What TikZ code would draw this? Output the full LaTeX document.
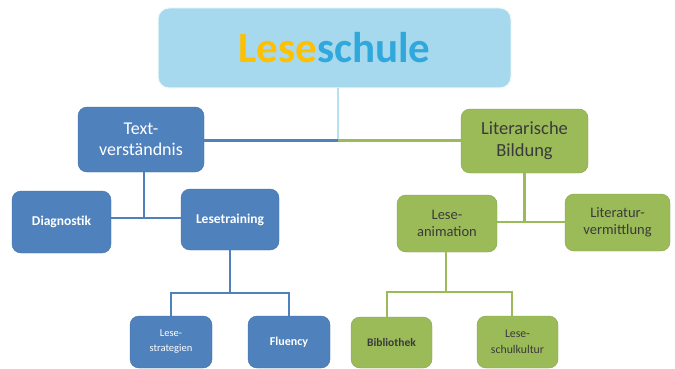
\documentclass[tikz,border=0pt]{standalone}
\usepackage{fontspec}
\setmainfont{Carlito}
\definecolor{obl}{HTML}{4F81BD}
\definecolor{ogr}{HTML}{9BBB59}
\definecolor{topfill}{HTML}{A6D9ED}
\definecolor{lyel}{HTML}{FFC000}
\definecolor{lblu}{HTML}{31A8DC}
\definecolor{dtxt}{HTML}{3A3A3A}
\definecolor{vline}{HTML}{B7E1F1}
\tikzset{
  bluebox/.style={rounded corners=9pt, fill=obl, draw=obl!85!black, line width=0.4pt, text=white, align=center, inner sep=0pt},
  greenbox/.style={rounded corners=9pt, fill=ogr, draw=ogr!85!black, line width=0.4pt, text=dtxt, align=center, inner sep=0pt},
  blueline/.style={draw=obl, line width=2.6pt},
  greenline/.style={draw=ogr, line width=2.6pt},
}
\begin{document}
\begin{tikzpicture}[x=1pt,y=-1pt]
\useasboundingbox (0,0) rectangle (675,369);
% nodes
\node[rounded corners=11pt, fill=topfill, draw=white!85!topfill, line width=1pt, minimum width=353pt, minimum height=80pt, inner sep=0pt]
  (top) at (334.5,48) {\fontsize{43}{47}\selectfont\bfseries\textcolor{lyel}{Lese}\textcolor{lblu}{schule}};
\node[bluebox, minimum width=126pt, minimum height=65pt, font=\fontsize{18}{21}\selectfont] (tv) at (141,139.5) {Text-\\verständnis};
\node[bluebox, minimum width=99pt, minimum height=62pt, font=\fontsize{13.5}{16}\selectfont\bfseries] (diag) at (61.5,222) {Diagnostik};
\node[bluebox, minimum width=98pt, minimum height=61pt, font=\fontsize{13.5}{16}\selectfont\bfseries] (lt) at (230,219.5) {Lesetraining};
\node[bluebox, minimum width=82pt, minimum height=52pt, font=\fontsize{10.5}{15}\selectfont] (ls) at (171,342) {Lese-\\strategien};
\node[bluebox, minimum width=82pt, minimum height=52pt, font=\fontsize{12}{14}\selectfont\bfseries] (fl) at (289,342) {Fluency};
\node[greenbox, minimum width=127pt, minimum height=64pt, font=\fontsize{18.5}{22}\selectfont] (lb) at (524.5,141) {Literarische\\Bildung};
\node[greenbox, minimum width=100pt, minimum height=57pt, font=\fontsize{14.5}{17}\selectfont] (la) at (447,223.5) {Lese-\\animation};
\node[greenbox, minimum width=105pt, minimum height=57pt, font=\fontsize{14.5}{17}\selectfont] (lv) at (617.5,222.5) {Literatur-\\vermittlung};
\node[greenbox, minimum width=81pt, minimum height=51pt, font=\fontsize{11.5}{14}\selectfont\bfseries] (bi) at (391.5,342.5) {Bibliothek};
\node[greenbox, minimum width=81pt, minimum height=52pt, font=\fontsize{11.8}{16}\selectfont] (sk) at (517.5,342) {Lese-\\schulkultur};
% junctions
\coordinate (j0) at (338,140.5);
\coordinate (j1) at (144,218);
\coordinate (j2) at (230,293);
\coordinate (j3) at (524.5,222);
\coordinate (j4) at (446,292);
\coordinate (jb) at (387,292);
\coordinate (jc) at (512,292);
% connectors
\draw[draw=vline, line width=1.5pt] (j0 |- top.south) -- (j0);
\draw[blueline] (j0 -| tv.east) -- (j0);
\draw[greenline] (j0) -- (j0 -| lb.west);
\draw[blueline] (j1 |- tv.south) -- (j1);
\draw[blueline] (j1 -| diag.east) -- (j1 -| lt.west);
\draw[blueline] (lt.south) -- (j2);
\draw[blueline, line cap=rect] (ls.north |- j2) -- (fl.north |- j2);
\draw[blueline] (ls.north |- j2) -- (ls.north);
\draw[blueline] (fl.north |- j2) -- (fl.north);
\draw[greenline] (lb.south) -- (j3);
\draw[greenline] (j3 -| la.east) -- (j3 -| lv.west);
\draw[greenline] (j4 |- la.south) -- (j4);
\draw[greenline, line cap=rect] (jb) -- (jc);
\draw[greenline] (jb) -- (jb |- bi.north);
\draw[greenline] (jc) -- (jc |- sk.north);
\end{tikzpicture}
\end{document}
